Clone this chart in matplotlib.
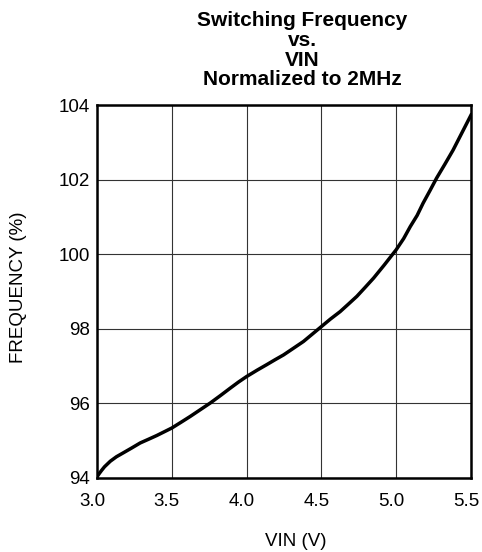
import matplotlib
matplotlib.use("Agg")
from matplotlib import pyplot as plt
from matplotlib.transforms import ScaledTranslation

plt.rcParams['font.family'] = ['Liberation Sans', 'DejaVu Sans']

# values
vin = [3.0, 3.015, 3.03, 3.05, 3.089, 3.13, 3.178, 3.23, 3.289, 3.345, 3.40, 3.45,
       3.5, 3.56, 3.623, 3.69, 3.757, 3.825, 3.891, 3.945, 4.0,
       4.07, 4.135, 4.19, 4.247, 4.31, 4.38, 4.44, 4.5, 4.56, 4.625, 4.68,
       4.737, 4.79, 4.849, 4.92, 5.0, 5.05, 5.094, 5.14, 5.18, 5.225, 5.27,
       5.325, 5.38, 5.44, 5.5]
freq = [94.03, 94.12, 94.2, 94.3, 94.45, 94.57, 94.68, 94.80, 94.94, 95.04, 95.14, 95.24,
        95.34, 95.49, 95.65, 95.83, 96.01, 96.21, 96.41, 96.57, 96.72,
        96.89, 97.04, 97.17, 97.30, 97.47, 97.66, 97.86, 98.06, 98.26, 98.46, 98.66,
        98.87, 99.10, 99.36, 99.71, 100.12, 100.42, 100.74, 101.04, 101.37, 101.70, 102.04,
        102.41, 102.79, 103.26, 103.73]

x_ticks = [3.0, 3.5, 4.0, 4.5, 5.0, 5.5]
x_labels = ['3.0', '3.5', '4.0', '4.5', '5.0', '5.5']
y_ticks = [94, 96, 98, 100, 102, 104]

fig = plt.figure(figsize=(4.82, 5.52), dpi=100)
ax = fig.add_axes([97/482, 1-478/552, 374/482, 373/552])

ax.plot(vin, freq, color='black', linewidth=2.5, zorder=3, solid_joinstyle='round')

ax.set_xlim(3.0, 5.5)
ax.set_ylim(94, 104)
ax.set_xticks(x_ticks)
ax.set_xticklabels(x_labels)
ax.set_yticks(y_ticks)
ax.grid(True, color='#333333', linewidth=0.8)
for s in ax.spines.values():
    s.set_linewidth(1.8)
    s.set_zorder(4)

ax.tick_params(axis='x', length=0, pad=10.5, labelsize=13.5)
ax.tick_params(axis='y', length=0, pad=5, labelsize=13.5)
off = ScaledTranslation(-5/100, 0, fig.dpi_scale_trans)
for lab in ax.get_xticklabels():
    lab.set_transform(lab.get_transform() + off)

fig.text(302/482, 1-11/552, 'Switching Frequency\nvs.\nVIN\nNormalized to 2MHz',
         ha='center', va='top', fontsize=15, fontweight='bold', linespacing=1.05)
fig.text(19/482, 1-287/552, 'FREQUENCY (%)', rotation=90, ha='center', va='center', fontsize=13.5)
fig.text(296/482, 1-541/552, 'VIN (V)', ha='center', va='center', fontsize=13.5)

fig.savefig('out.png', dpi=100)
